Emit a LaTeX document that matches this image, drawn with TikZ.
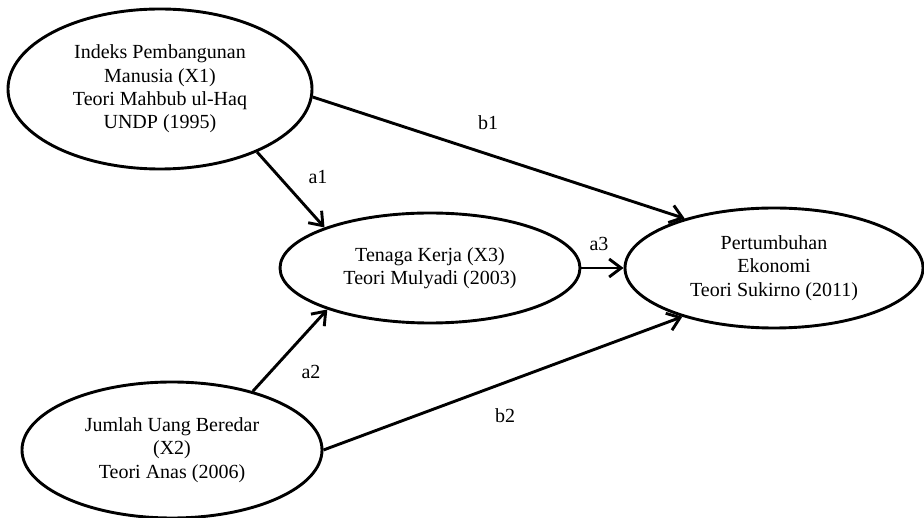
\documentclass[tikz,border=0pt]{standalone}
\usepackage{fontspec}
\setmainfont{Liberation Serif}
\usetikzlibrary{arrows.meta,shapes.geometric}

\begin{document}
\begin{tikzpicture}[x=1pt,y=-1pt,
 var/.style={ellipse,draw=black,line width=2.9pt,inner sep=0pt,
 align=center,font=\fontsize{20}{23.3}\selectfont},
 link/.style={draw=black,line width=2.9pt,
 -{Straight Barb[length=12pt,width=18pt]}},
 lab/.style={font=\fontsize{20}{23}\selectfont,inner sep=0pt}]
\useasboundingbox (0,0) rectangle (924,518);
\node[var,minimum width=304pt,minimum height=160pt] (x1) at (160,89)
 {Indeks Pembangunan\\Manusia (X1)\\Teori Mahbub ul-Haq\\UNDP (1995)};
\node[var,minimum width=300pt,minimum height=110pt] (x3) at (430,268)
 {Tenaga Kerja (X3)\\Teori Mulyadi (2003)};
\node[var,minimum width=300pt,minimum height=136pt] (x2) at (172,450)
 {Jumlah Uang Beredar\\(X2)\\Teori Anas (2006)};
\node[var,minimum width=298pt,minimum height=120pt] (y) at (774,268)
 {Pertumbuhan\\Ekonomi\\Teori Sukirno (2011)};
\draw[link] (x1.-33) -- (x3.159.5);
\draw[link] (x1.-3.4) -- (y.151);
\draw[link] (x3.east) -- (y.west);
\draw[link] (x2.36.5) -- (x3.202);
\draw[link] (x2.east) -- (y.208);
\node[lab] (la1) at (318,177) {a1};
\node[lab] (lb1) at (488,123) {b1};
\node[lab] (la3) at (599,244) {a3};
\node[lab] (la2) at (311,372) {a2};
\node[lab] (lb2) at (505,416) {b2};
\end{tikzpicture}
\end{document}
